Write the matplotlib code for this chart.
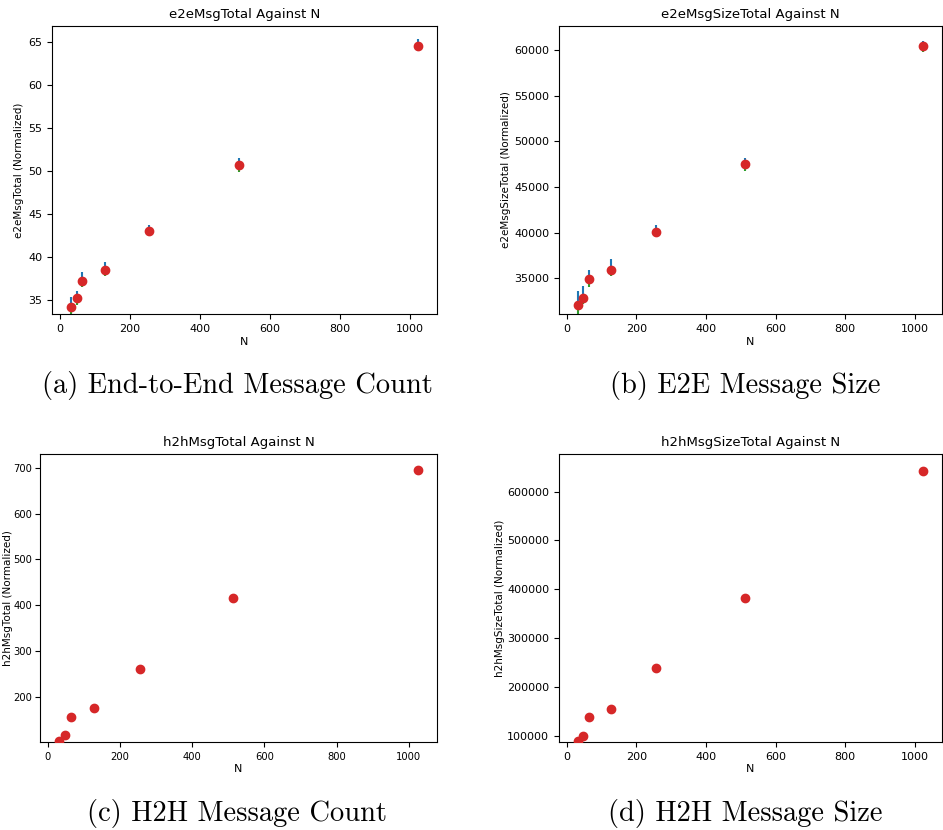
import matplotlib
matplotlib.use("Agg")
import matplotlib.pyplot as plt

N = [32, 48, 64, 128, 256, 512, 1024]

# e2eMsgTotal: mean, max (blue, above), min (green, below)
e2e_msg = [34.2, 35.2, 37.25, 38.5, 43.0, 50.7, 64.5]
e2e_msg_hi = [35.3, 36.1, 38.25, 39.4, 43.7, 51.5, 65.3]
e2e_msg_lo = [33.4, 34.4, 36.5, 37.8, 42.4, 49.9, 63.9]

# e2eMsgSizeTotal
e2e_size = [32077, 32887, 34960, 35950, 40100, 47500, 60400]
e2e_size_hi = [33610, 34157, 35910, 37100, 40800, 48200, 61000]
e2e_size_lo = [31100, 32230, 34010, 35300, 39500, 46700, 59800]

# h2hMsgTotal
h2h_msg = [104, 117, 156, 176, 261, 416, 695]
h2h_msg_hi = [106, 119, 158, 178, 263, 418, 697]
h2h_msg_lo = [102, 115, 154, 174, 259, 414, 693]

# h2hMsgSizeTotal
h2h_size = [89000, 100000, 139000, 155000, 239000, 382000, 642000]
h2h_size_hi = [90000, 101000, 140000, 156000, 240000, 383000, 643000]
h2h_size_lo = [88000, 99000, 138000, 154000, 238000, 381000, 641000]

W, H = 943, 830
fig = plt.figure(figsize=(W / 100, H / 100), dpi=100)


def box(l, t, r, b):
    return [l / W, 1 - b / H, (r - l) / W, (b - t) / H]


panels = [
    (box(52, 26, 437, 314), e2e_msg, e2e_msg_hi, e2e_msg_lo, "e2eMsgTotal", (33.37, 66.86), -0.073, 8),
    (box(559, 26, 942, 314), e2e_size, e2e_size_hi, e2e_size_lo, "e2eMsgSizeTotal", (31091, 62628), -0.125, 8),
    (box(40, 454, 437, 742), h2h_msg, h2h_msg_hi, h2h_msg_lo, "h2hMsgTotal", (102, 730), -0.0685, 7.2),
    (box(559, 454, 942, 742), h2h_size, h2h_size_hi, h2h_size_lo, "h2hMsgSizeTotal", (87100, 677000), -0.141, 8),
]

for rect, mean, hi, lo, name, ylim, ylab_x, tsize in panels:
    ax = fig.add_axes(rect)
    ax.vlines(N, mean, hi, color="C0", lw=1.5)
    ax.vlines(N, lo, mean, color="C2", lw=1.5)
    ax.scatter(N, mean, color="C3", s=36, zorder=3)
    ax.set_ylim(*ylim)
    ax.set_xlim(-22, 1078)
    ax.set_title(name + " Against N", fontsize=9.5)
    ax.set_xlabel("N", fontsize=8, labelpad=2)
    ax.set_ylabel(name + " (Normalized)", fontsize=7.5)
    ax.yaxis.set_label_coords(ylab_x, 0.5)
    ax.tick_params(labelsize=tsize)
    if tsize < 8:
        ax.tick_params(axis="y", pad=2)

captions = [
    (237, 385, "(a) End-to-End Message Count"),
    (745, 385, "(b) E2E Message Size"),
    (237, 813, "(c) H2H Message Count"),
    (745, 813, "(d) H2H Message Size"),
]
for x, y, txt in captions:
    fig.text(x / W, 1 - y / H, txt, ha="center", va="center",
             fontsize=20.5, family=["cmr10", "DejaVu Serif"])

fig.savefig("out.png", dpi=100)
